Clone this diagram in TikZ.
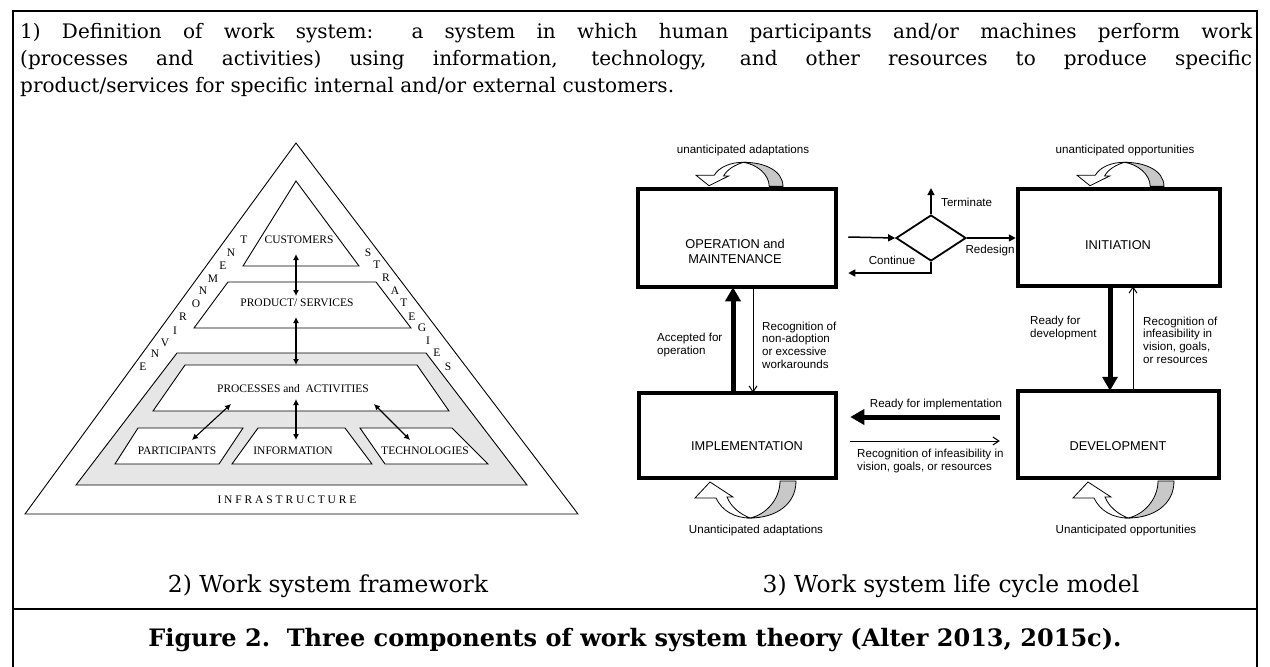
\documentclass[tikz,border=0pt]{standalone}
\usepackage{fontspec}
\setmainfont{DejaVu Serif}
\newfontfamily\arialf{Liberation Sans}
\newfontfamily\timesf{Liberation Serif}
\usetikzlibrary{arrows.meta,shapes.geometric,calc}
\definecolor{trigray}{HTML}{E6E6E6}
\definecolor{loopgray}{HTML}{C8C8C8}
\begin{document}
\begin{tikzpicture}[x=1pt,y=-1pt,
  tri/.style={draw,line width=0.9pt},
  tlab/.style={font=\timesf\fontsize{11.5}{13}\selectfont, inner sep=0pt},
  dbl/.style={line width=1.1pt,{Latex[length=6pt,width=6pt]}-{Latex[length=6pt,width=6pt]}},
  stagebox/.style={draw,line width=4.5pt,inner sep=0pt},
  slab/.style={font=\arialf\fontsize{12.8}{15}\selectfont, align=center, inner sep=0pt},
  alab/.style={font=\arialf\fontsize{11.6}{12.7}\selectfont, align=left, inner sep=0pt},
  fat/.style={line width=5pt,-{Triangle[length=14pt,width=15pt]}},
  thinarr/.style={line width=1pt,-{Straight Barb[length=6pt,width=8pt]}},
  flow/.style={line width=1.5pt,-{Triangle[length=7pt,width=7pt]}},
  loopline/.style={line width=0.8pt},
]
\useasboundingbox (0,0) rectangle (1270,667);
% frame
\draw[line width=2pt] (13,667) -- (13,11) -- (1257,11) -- (1257,667);
\draw[line width=2pt] (13,609) -- (1257,609);
% definition text
\node[anchor=north west, text width=1232pt, align=justify, inner sep=0pt,
  font=\fontsize{20}{27}\selectfont] (def) at (20,23)
  {1) Definition of work system: a system in which human participants and/or machines perform work\linebreak
   (processes and activities) using information, technology, and other resources to produce specific\linebreak
   product/services for specific internal and/or external customers.};
% ---------- left: work system framework ----------
\draw[tri] (296,143) -- (578,514) -- (25,514) -- cycle;
\draw[tri] (296,181) -- (359,266) -- (243,266) -- cycle;
\draw[tri] (228,282) -- (376,282) -- (411,328) -- (194,328) -- cycle;
\draw[tri,fill=trigray] (177,353) -- (426,353) -- (527,485) -- (76,485) -- cycle;
\draw[tri,fill=white] (185,365) -- (417,365) -- (449,411) -- (153,411) -- cycle;
\draw[tri,fill=white] (138,428) -- (243,428) -- (219,464) -- (115,464) -- cycle;
\draw[tri,fill=white] (258,428) -- (345,428) -- (372,464) -- (232,464) -- cycle;
\draw[tri,fill=white] (360,428) -- (452,428) -- (488,464) -- (385,464) -- cycle;
\node[tlab] (cust) at (299,240) {CUSTOMERS};
\node[tlab] (prod) at (297,303) {PRODUCT/ SERVICES};
\node[tlab] (proc) at (293,389) {PROCESSES and\ \ ACTIVITIES};
\node[tlab] (part) at (177,451) {PARTICIPANTS};
\node[tlab] (info) at (293,451) {INFORMATION};
\node[tlab] (tech) at (425,451) {TECHNOLOGIES};
\node[tlab] (infra) at (287,500) {I N F R A S T R U C T U R E};
\foreach \l/\x/\y [count=\i] in {E/143/367,N/155/354,V/165/343,I/175/331,R/183/317,O/196/304,N/203/291,M/213/279,E/223/266,N/231/253,T/244/240}
  \node[tlab] (env\i) at (\x,\y) {\l};
\foreach \l/\x/\y [count=\i] in {S/368/253,T/377/265,R/386/278,A/395/291,T/404/303,E/412/317,G/422/328,I/428/341,E/437/353,S/448/367}
  \node[tlab] (str\i) at (\x,\y) {\l};
\coordinate (a1) at (296,254); \coordinate (a2) at (296,296);
\coordinate (b1) at (296,317); \coordinate (b2) at (296,365);
\coordinate (c1) at (296,399); \coordinate (c2) at (296,440);
\coordinate (d1) at (231,404); \coordinate (d2) at (192,440);
\coordinate (e1) at (374,404); \coordinate (e2) at (410,440);
\draw[dbl] (a1) -- (a2);
\draw[dbl] (b1) -- (b2);
\draw[dbl] (c1) -- (c2);
\draw[dbl] (d1) -- (d2);
\draw[dbl] (e1) -- (e2);
% ---------- right: life cycle ----------
\node[stagebox, minimum width=198pt, minimum height=98pt] (op) at (737,238) {};
\node[stagebox, minimum width=202pt, minimum height=97pt] (init) at (1119,237.5) {};
\node[stagebox, minimum width=201pt, minimum height=87pt] (dev) at (1118.5,434.5) {};
\node[stagebox, minimum width=197pt, minimum height=85pt] (impl) at (737.5,435.5) {};
\node[slab] (opt) at (735,251) {OPERATION and\\MAINTENANCE};
\node[slab] (initt) at (1118,245) {INITIATION};
\node[slab] (devt) at (1118,446) {DEVELOPMENT};
\node[slab] (implt) at (747,446) {IMPLEMENTATION};
\node[draw,diamond,line width=1.8pt,minimum width=70pt,minimum height=46pt,inner sep=0pt] (dia) at (931,238) {};
\draw[flow] ($(op.east)+(10,-1)$) -- (dia.west);
\draw[flow] (dia.north) -- ++(0,-26);
\draw[flow] (dia.south) |- ($(op.east)+(10,35)$);
\draw[flow] (dia.east) -- (dia.east -| init.west);
\coordinate (xa) at (733,0); \coordinate (xb) at (753,0);
\coordinate (xc) at (1110,0); \coordinate (xd) at (1133,0);
\coordinate (ya) at (0,417); \coordinate (yb) at (0,441);
\draw[fat,shorten >=-2pt] (impl.north -| xa) -- (op.south -| xa);
\draw[thinarr,shorten >=-2pt] (op.south -| xb) -- (impl.north -| xb);
\draw[fat,shorten >=-2pt] (init.south -| xc) -- (dev.north -| xc);
\draw[thinarr,shorten >=-2pt] (dev.north -| xd) -- (init.south -| xd);
\draw[fat] ($(dev.west |- ya)+(-16,0)$) -- ($(impl.east |- ya)+(12,0)$);
\draw[thinarr] ($(impl.east |- yb)+(12,0)$) -- ($(dev.west |- yb)+(-16,0)$);
% labels
\node[alab] (ladapt) at (743,150) {unanticipated adaptations};
\node[alab] (lopp) at (1125,150) {unanticipated opportunities};
\node[alab,anchor=west] (lterm) at (941,202) {Terminate};
\node[alab] (lcont) at (892,260) {Continue};
\node[alab] (lred) at (990,250) {Redesign};
\node[alab,anchor=west] (lacc) at (657,345) {Accepted for\\operation};
\node[alab,anchor=west] (lnon) at (762,345) {Recognition of\\non-adoption\\or excessive\\workarounds};
\node[alab,anchor=west] (lrdev) at (1030,328) {Ready for\\development};
\node[alab,anchor=west] (linf1) at (1143,340) {Recognition of\\infeasibility in\\vision, goals,\\or resources};
\node[alab] (lrimp) at (936,404) {Ready for implementation};
\node[alab,anchor=west] (linf2) at (857,461) {Recognition of infeasibility in\\vision, goals, or resources};
\node[alab] (luadapt) at (756,530) {Unanticipated adaptations};
\node[alab] (luopp) at (1126,530) {Unanticipated opportunities};
% loop arrows
\foreach \sx/\sy/\xs/\ys in {710/480/1/1, 1088/480/1/1, 709/187/0.86/-0.65, 1090/187/0.86/-0.65}{
  \begin{scope}[shift={(\sx,\sy)},xscale=\xs,yscale=\ys]
    \filldraw[loopline,fill=loopgray] (40,38) .. controls (65,38) and (86,25) .. (86,1)
      -- (70,1) .. controls (70,20) and (55,35) .. (40,38) -- cycle;
    \filldraw[loopline,fill=white] (-15,18) -- (0,2) -- (23,17) -- (17,17)
      .. controls (21,27) and (30,34) .. (40,38)
      .. controls (25,38) and (12,31) .. (6,18) -- cycle;
  \end{scope}
}
% captions
\node[font=\fontsize{23.4}{26}\selectfont, inner sep=0pt] (cap2) at (328,586) {2) Work system framework};
\node[font=\fontsize{23.4}{26}\selectfont, inner sep=0pt] (cap3) at (951,586) {3) Work system life cycle model};
\node[font=\bfseries\fontsize{24}{26}\selectfont, inner sep=0pt] (fig) at (635,640) {Figure 2.\ \ Three components of work system theory (Alter 2013, 2015c).};
\end{tikzpicture}
\end{document}
